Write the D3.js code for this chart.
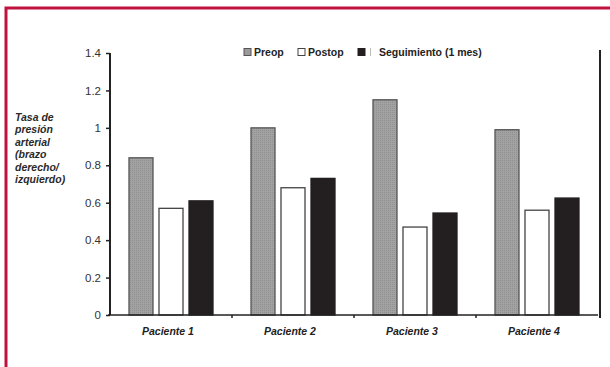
<!DOCTYPE html>
<html>
<head>
<meta charset="utf-8">
<script src="https://cdn.jsdelivr.net/npm/d3@7"></script>
<style>
  body { margin: 0; background: #fff; }
  svg { display: block; font-family: "Liberation Sans", Arial, sans-serif; }
</style>
</head>
<body>
<svg id="chart" width="610" height="367"></svg>
<script>
// Donnees
const patients = ["Paciente 1", "Paciente 2", "Paciente 3", "Paciente 4"];
const series = ["Preop", "Postop", "Seguimiento (1 mes)"];
const preop = [0.84, 1.0, 1.15, 0.99];
const postop = [0.57, 0.68, 0.47, 0.56];
const seguimiento = [0.61, 0.73, 0.545, 0.625];
const yTicks = [0, 0.2, 0.4, 0.6, 0.8, 1, 1.2, 1.4];
const yLabelLines = ["Tasa de", "presión", "arterial", "(brazo", "derecho/", "izquierdo)"];

const values = [preop, postop, seguimiento];
const fills = ["url(#hatch)", "#ffffff", "#231f20"];
const strokes = ["#555", "#444", "#231f20"];

const svg = d3.select("#chart");

// Motif grise facon impression
const defs = svg.append("defs");
const pat = defs.append("pattern")
    .attr("id", "hatch")
    .attr("patternUnits", "userSpaceOnUse")
    .attr("width", 2)
    .attr("height", 2);
pat.append("rect").attr("width", 2).attr("height", 2).attr("fill", "#a2a2a2");
pat.append("rect").attr("width", 1).attr("height", 1).attr("fill", "#909090");

// Cadre rouge
svg.append("path")
    .attr("d", "M6,367 L6,8 L610,8")
    .attr("fill", "none")
    .attr("stroke", "#bf123e")
    .attr("stroke-width", 3);

const x = d3.scaleBand().domain(patients).range([110, 598]);
const inner = d3.scaleBand().domain(series).range([0, 85]).paddingInner(1 / 6);
const groupOffset = (x.bandwidth() - 85) / 2;
const y = d3.scaleLinear().domain([0, 1.4]).range([315, 53]);

// Barres
series.forEach(function(s, si) {
    svg.append("g")
        .selectAll("rect")
        .data(patients)
        .enter()
        .append("rect")
        .attr("x", function(p) { return x(p) + groupOffset + inner(s) + 0.5; })
        .attr("y", function(p, i) { return y(values[si][i]); })
        .attr("width", inner.bandwidth() - 1)
        .attr("height", function(p, i) { return y(0) - y(values[si][i]); })
        .attr("fill", fills[si])
        .attr("stroke", strokes[si])
        .attr("stroke-width", 1.3);
});

// Axe Y
const yAxis = svg.append("g")
    .attr("transform", "translate(110,0)")
    .call(d3.axisLeft(y).tickValues(yTicks).tickSize(4).tickPadding(5)
        .tickFormat(function(d) { return String(d); }));
yAxis.select(".domain").attr("stroke", "#222").attr("stroke-width", 2).attr("d", "M0,53V315");
yAxis.selectAll(".tick line").attr("stroke", "#222").attr("stroke-width", 1.5);
yAxis.selectAll(".tick text").attr("font-size", 11.5).attr("fill", "#333");

// Axe X
const xAxis = svg.append("g")
    .attr("transform", "translate(0,315)");
xAxis.append("line")
    .attr("x1", 108).attr("x2", 598)
    .attr("stroke", "#222").attr("stroke-width", 1.6);
xAxis.selectAll(".xtick")
    .data(patients.slice(1))
    .enter()
    .append("line")
    .attr("x1", function(p) { return x(p); })
    .attr("x2", function(p) { return x(p); })
    .attr("y1", 0).attr("y2", 3)
    .attr("stroke", "#222").attr("stroke-width", 1.5);
xAxis.selectAll(".xlabel")
    .data(patients)
    .enter()
    .append("text")
    .attr("x", function(p) { return x(p) + x.bandwidth() / 2 - 3; })
    .attr("y", 20)
    .attr("text-anchor", "middle")
    .attr("font-size", 10.5)
    .attr("font-weight", "bold")
    .attr("font-style", "italic")
    .attr("fill", "#222")
    .text(function(p) { return p; });

// Trait vertical droit
svg.append("line")
    .attr("x1", 600).attr("x2", 600)
    .attr("y1", 50).attr("y2", 318)
    .attr("stroke", "#222").attr("stroke-width", 2);

// Titre de l'axe Y
svg.append("text")
    .attr("font-size", 10.5)
    .attr("font-weight", "bold")
    .attr("font-style", "italic")
    .attr("fill", "#2a2a2a")
    .selectAll("tspan")
    .data(yLabelLines)
    .enter()
    .append("tspan")
    .attr("x", 15)
    .attr("y", function(d, i) { return 121 + i * 12.4; })
    .text(function(d) { return d; });

// Legende
const legendItems = [
    { x: 244, label: series[0], textX: 254 },
    { x: 298, label: series[1], textX: 308 },
    { x: 358, label: series[2], textX: 379 }
];
const legend = svg.append("g");
legendItems.forEach(function(item, i) {
    legend.append("rect")
        .attr("x", item.x).attr("y", 48.5)
        .attr("width", 7).attr("height", 7)
        .attr("fill", i === 0 ? "#9b9b9b" : fills[i])
        .attr("stroke", strokes[i])
        .attr("stroke-width", 1);
    legend.append("text")
        .attr("x", item.textX).attr("y", 56)
        .attr("font-size", 10.5)
        .attr("font-weight", "bold")
        .attr("fill", "#222")
        .text(item.label);
});
legend.append("line")
    .attr("x1", 370.5).attr("x2", 370.5)
    .attr("y1", 48).attr("y2", 56)
    .attr("stroke", "#bbb").attr("stroke-width", 1);
</script>
</body>
</html>
